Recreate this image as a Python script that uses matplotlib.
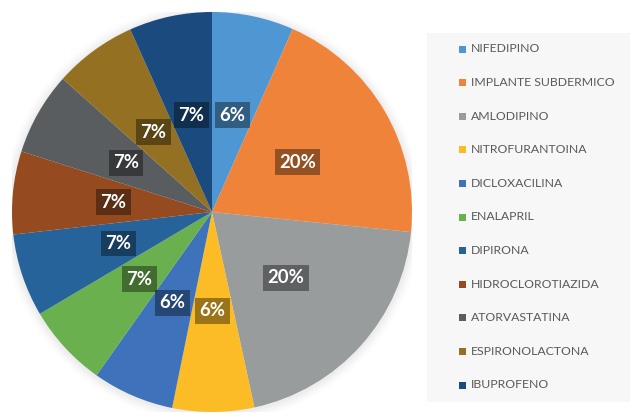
import matplotlib
matplotlib.use("Agg")
import matplotlib.pyplot as plt
from matplotlib.patches import Rectangle
import numpy as np

plt.rcParams['font.family'] = ['Lato', 'DejaVu Sans']

# data (slice shares in %, shown labels as printed)
medicamentos = ["NIFEDIPINO", "IMPLANTE SUBDERMICO", "AMLODIPINO", "NITROFURANTOINA",
                "DICLOXACILINA", "ENALAPRIL", "DIPIRONA", "HIDROCLOROTIAZIDA",
                "ATORVASTATINA", "ESPIRONOLACTONA", "IBUPROFENO"]
shares = [6.6, 20.0, 20.0, 6.6, 6.6, 6.7, 6.7, 6.7, 6.7, 6.7, 6.7]
pct_labels = ["6%", "20%", "20%", "6%", "6%", "7%", "7%", "7%", "7%", "7%", "7%"]
colores = ["#4f97d3", "#f0833a", "#999c9d", "#fbbc26", "#3e72bb", "#6ab04f",
           "#26639a", "#954b1f", "#5a5d5f", "#937022", "#1b4b7e"]

W, H = 630, 413
fig = plt.figure(figsize=(W / 100, H / 100), dpi=100)
fig.patch.set_facecolor("white")

# legend background panel
fig.patches.append(Rectangle((427 / W, (H - 402) / H), (W - 427) / W, (402 - 33) / H,
                             transform=fig.transFigure, facecolor="#f7f7f7",
                             edgecolor="none", zorder=0))

# pie: center (212, 212) px, radius 200 px
ax = fig.add_axes([12 / W, (H - 412) / H, 400 / W, 400 / H])

# soft shadow
for i, a in enumerate([0.025, 0.02, 0.015, 0.01]):
    ax.add_patch(plt.Circle((0, -0.005), 1.0 + 0.012 * (i + 1), color="black",
                            alpha=a, lw=0, zorder=0))

wedges, _ = ax.pie(shares, colors=colores, startangle=90, counterclock=False,
                   radius=1.0, wedgeprops=dict(linewidth=0))
ax.set_xlim(-1, 1)
ax.set_ylim(-1, 1)
ax.set_aspect("equal")
ax.axis("off")

for w, lab in zip(wedges, pct_labels):
    ang = np.deg2rad((w.theta1 + w.theta2) / 2)
    x, y = 0.495 * np.cos(ang), 0.495 * np.sin(ang)
    ax.text(x, y, lab, ha="center", va="center", color="white", fontsize=13.3,
            fontweight="bold", zorder=5,
            bbox=dict(boxstyle="square,pad=0.24", facecolor="black", alpha=0.38,
                      edgecolor="none"))

# legend entries
for i, (name, c) in enumerate(zip(medicamentos, colores)):
    yc = 49 + i * 33.6
    fig.patches.append(Rectangle((459 / W, (H - yc - 3.5) / H), 7 / W, 7 / H,
                                 transform=fig.transFigure, facecolor=c,
                                 edgecolor="none", zorder=2))
    fig.text(471 / W, (H - yc) / H, name, ha="left", va="center",
             fontsize=8.8, color="#595959")

fig.savefig("out.png", dpi=100, facecolor="white")
